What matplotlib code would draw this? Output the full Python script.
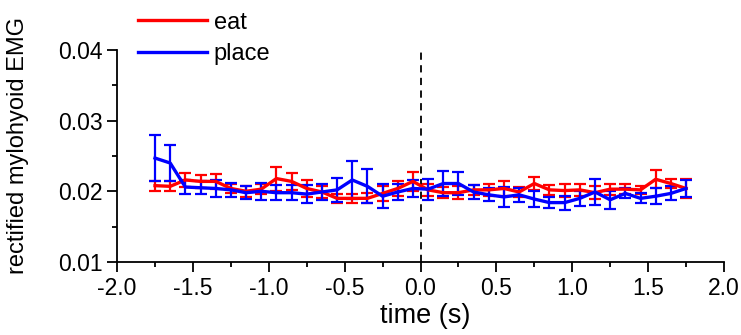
import numpy as np
import matplotlib
matplotlib.use("Agg")
import matplotlib.pyplot as plt
from matplotlib.ticker import MultipleLocator
from matplotlib.lines import Line2D

plt.rcParams['font.family'] = ['Liberation Sans', 'DejaVu Sans']
plt.rcParams['axes.unicode_minus'] = False

# time bins (s)
t = [-1.75, -1.65, -1.55, -1.45, -1.35, -1.25, -1.15, -1.05, -0.95, -0.85, -0.75, -0.65,
     -0.55, -0.45, -0.35, -0.25, -0.15, -0.05, 0.05, 0.15, 0.25, 0.35, 0.45, 0.55,
     0.65, 0.75, 0.85, 0.95, 1.05, 1.15, 1.25, 1.35, 1.45, 1.55, 1.65, 1.75]

# eat condition
eat_mean = [0.0208, 0.0207, 0.0216, 0.0214, 0.0214, 0.0204, 0.0200, 0.0203, 0.0218, 0.0214, 0.0204, 0.0199,
            0.0190, 0.0190, 0.0190, 0.0197, 0.0204, 0.0214, 0.0202, 0.0198, 0.0198, 0.0202, 0.0202, 0.0204,
            0.0199, 0.0211, 0.0202, 0.0201, 0.0202, 0.0198, 0.0203, 0.0203, 0.0202, 0.0217, 0.0211, 0.0204]
eat_err = [0.0007, 0.0007, 0.0010, 0.0009, 0.0011, 0.0007, 0.0008, 0.0007, 0.0017, 0.0012, 0.0012, 0.0008,
           0.0006, 0.0006, 0.0007, 0.0011, 0.0010, 0.0013, 0.0008, 0.0008, 0.0009, 0.0007, 0.0009, 0.0010,
           0.0007, 0.0009, 0.0007, 0.0009, 0.0008, 0.0009, 0.0008, 0.0007, 0.0006, 0.0013, 0.0006, 0.0013]

# place condition
place_mean = [0.0247, 0.0240, 0.0206, 0.0205, 0.0204, 0.0202, 0.0198, 0.0200, 0.0198, 0.0198, 0.0196, 0.0199,
              0.0202, 0.0216, 0.0207, 0.0193, 0.0199, 0.0204, 0.0203, 0.0211, 0.0211, 0.0199, 0.0195, 0.0192,
              0.0195, 0.0189, 0.0184, 0.0184, 0.0190, 0.0199, 0.0188, 0.0197, 0.0190, 0.0193, 0.0197, 0.0204]
place_err = [0.0033, 0.0025, 0.0010, 0.0009, 0.0012, 0.0010, 0.0009, 0.0012, 0.0011, 0.0011, 0.0013, 0.0012,
             0.0017, 0.0027, 0.0024, 0.0017, 0.0012, 0.0012, 0.0015, 0.0017, 0.0016, 0.0010, 0.0009, 0.0014,
             0.0010, 0.0011, 0.0008, 0.0010, 0.0011, 0.0018, 0.0013, 0.0007, 0.0007, 0.0011, 0.0010, 0.0012]

fig = plt.figure(figsize=(7.41, 3.35), dpi=100)
ax = fig.add_axes([0.158, 0.218, 0.819, 0.633])

ax.errorbar(t, eat_mean, yerr=eat_err, color='#ff0000', lw=2.4, elinewidth=1.6,
            capsize=4.5, capthick=1.6, label='eat')
ax.errorbar(t, place_mean, yerr=place_err, color='#0000ff', lw=2.4, elinewidth=1.6,
            capsize=4.5, capthick=1.6, label='place')
ax.axvline(0, color='black', ls=(0, (4, 3)), lw=1.3)

ax.set_xlim(-2.0, 2.0)
ax.set_ylim(0.01, 0.04)
ax.xaxis.set_major_locator(MultipleLocator(0.5))
ax.xaxis.set_minor_locator(MultipleLocator(0.25))
ax.yaxis.set_major_locator(MultipleLocator(0.01))
ax.yaxis.set_minor_locator(MultipleLocator(0.005))
ax.xaxis.set_major_formatter(plt.FormatStrFormatter('%.1f'))
ax.yaxis.set_major_formatter(plt.FormatStrFormatter('%.2f'))
ax.tick_params(which='major', direction='out', length=7, width=1.3, labelsize=16.5)
ax.tick_params(which='minor', direction='out', length=3.5, width=1.3)
for s in ['top', 'right']:
    ax.spines[s].set_visible(False)
for s in ['left', 'bottom']:
    ax.spines[s].set_linewidth(1.3)

ax.set_xlabel('time (s)', fontsize=19.5)
ax.set_ylabel('rectified mylohyoid EMG', fontsize=17)
ax.xaxis.set_label_coords(0.507, -0.195)
ax.yaxis.set_label_coords(-0.145, 0.55)

# legend sits above the axes, top left
handles = [Line2D([], [], color='#ff0000', lw=2.4), Line2D([], [], color='#0000ff', lw=2.4)]
fig.legend(handles, ['eat', 'place'], loc='upper left', bbox_to_anchor=(0.164, 1.015),
           frameon=False, fontsize=17, handlelength=2.9, handletextpad=0.3,
           labelspacing=0.4, borderpad=0.2)

fig.savefig('out.png', dpi=100)
